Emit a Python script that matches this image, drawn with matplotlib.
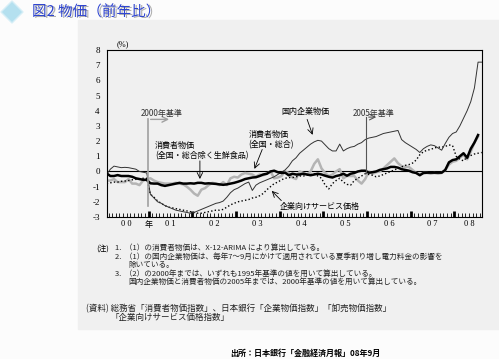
import numpy as np
import matplotlib
matplotlib.use("Agg")
import matplotlib.pyplot as plt
from matplotlib.patches import Rectangle, Polygon

plt.rcParams['font.family'] = ['Noto Sans CJK JP', 'DejaVu Sans']

# monthly, Jan 2000 - Aug 2008 (y/y %)
cgpi = [-0.2, 0.15, 0.35, 0.3, 0.25, 0.27, 0.25, 0.2, 0.15, 0.0, -0.05, -0.1,
        -1.5, -1.75, -2.0, -2.1, -2.25, -2.35, -2.45, -2.55, -2.6, -2.65, -2.7, -2.75,
        -2.7, -2.6, -2.5, -2.4, -2.3, -2.2, -2.1, -2.05, -1.95, -1.7, -1.4, -1.2,
        -1.1, -0.95, -0.8, -0.7, -1.25, -0.9, -0.75, -0.65, -0.55, -0.45, -0.35, -0.2,
        -0.05, 0.1, 0.35, 0.7, 0.9, 1.2, 1.4, 1.6, 1.8, 1.95, 2.05, 2.0,
        1.75, 1.5, 1.35, 1.35, 1.8, 1.35, 1.5, 1.6, 1.65, 1.8, 1.9, 2.1,
        2.2, 2.25, 2.3, 2.4, 2.5, 2.55, 2.6, 2.65, 2.7, 2.1, 1.9, 1.75,
        1.6, 1.45, 1.25, 1.5, 1.65, 1.75, 1.7, 1.55, 1.4, 1.85, 2.25, 2.5,
        2.6, 3.0, 3.5, 4.0, 4.6, 5.5, 7.2, 7.2]
cspi = [-0.8, -0.75, -0.7, -0.7, -0.65, -0.63, -0.6, -0.55, -0.52, -0.5, -0.45, -0.45,
        -1.5, -1.7, -1.95, -2.1, -2.25, -2.35, -2.4, -2.45, -2.5, -2.55, -2.6, -2.65,
        -2.7, -2.75, -2.75, -2.7, -2.65, -2.6, -2.55, -2.55, -2.5, -2.35, -2.2, -2.1,
        -2.0, -1.95, -1.9, -1.85, -1.75, -1.7, -1.6, -1.45, -1.2, -1.0, -0.8, -0.7,
        -0.55, -0.45, -0.4, -0.4, -0.35, -0.3, -0.3, -0.25, -0.2, -0.15, -0.3, -0.45,
        -0.9, -1.15, -0.8, -0.6, -0.45, -0.7, -0.85, -0.9, -0.6, -0.45, -0.3, -0.15,
        -0.2, -0.25, -0.35, -0.3, -0.2, -0.1, 0.0, 0.1, 0.2, 0.3, 0.4, 0.45,
        0.55, 0.75, 1.1, 1.3, 1.4, 1.45, 1.55, 1.6, 1.6, 1.65, 1.75, 1.7,
        1.0, 0.8, 0.7, 0.95, 1.05, 1.15, 1.2, 1.25]
cpi_core = [-0.13, -0.3, -0.3, -0.24, -0.3, -0.3, -0.3, -0.35, -0.45, -0.5, -0.55, -0.55,
            -0.78, -0.8, -0.8, -0.9, -0.95, -0.9, -0.85, -0.8, -0.75, -0.8, -0.8, -0.78,
            -0.8, -0.75, -0.75, -0.8, -0.78, -0.8, -0.82, -0.85, -0.88, -0.85, -0.8, -0.75,
            -0.68, -0.6, -0.5, -0.45, -0.4, -0.38, -0.3, -0.2, -0.15, 0.0, 0.05, -0.05,
            -0.1, -0.08, -0.25, -0.15, -0.2, -0.2, -0.15, -0.2, -0.25, -0.2, -0.15, -0.2,
            -0.28, -0.35, -0.4, -0.3, -0.25, -0.15, -0.28, -0.15, -0.1, 0.0, 0.05, 0.05,
            -0.08, -0.05, 0.0, 0.1, 0.15, 0.2, 0.3, 0.3, 0.25, 0.15, 0.1, 0.05,
            -0.05, -0.1, -0.25, -0.1, -0.08, -0.08, -0.08, -0.08, -0.08, 0.1, 0.6, 0.75,
            0.8, 1.0, 1.2, 0.9, 1.5, 1.9, 2.4, np.nan]
cpi_all = [-0.6, -0.6, -0.5, -0.7, -0.7, -0.7, -0.5, -0.8, -0.8, -0.9, -0.6, -0.5,
           -0.45, -0.6, -0.7, -0.75, -0.8, -0.8, -0.8, -0.75, -0.8, -0.85, -1.0, -1.2,
           -1.45, -1.6, -1.2, -1.1, -0.9, -0.75, -0.8, -0.9, -0.7, -0.9, -0.45, -0.35,
           -0.4, -0.2, -0.1, -0.15, -0.2, -0.35, -0.2, -0.25, -0.15, 0.0, -0.45, -0.4,
           -0.3, 0.0, -0.1, -0.4, -0.5, 0.0, -0.1, -0.2, 0.0, 0.5, 0.8, 0.2,
           -0.1, -0.3, -0.2, 0.0, 0.15, -0.45, -0.3, -0.3, -0.3, -0.6, -0.8, -0.5,
           0.0, -0.15, -0.05, 0.0, 0.2, 0.42, 0.64, 0.86, 0.55, 0.35, 0.3, 0.3,
           0.1, -0.1, -0.17, -0.1, -0.1, -0.15, -0.1, -0.15, -0.1, 0.1, 0.45, 0.64,
           0.7, 0.9, 1.1, 0.8, 1.3, 1.9, 2.3, np.nan]

year_labels = ["0 0", "0 1", "0 2", "0 3", "0 4", "0 5", "0 6", "0 7", "0 8"]
yticks = list(range(-3, 9))

months = np.arange(len(cgpi))

fig = plt.figure(figsize=(4.99, 3.59), dpi=100, facecolor='#fcfcfc')
W, H = 499, 359


def fx(px):
    return px / W


def fy(py):
    return 1 - py / H


# dotted page texture area
fig.add_artist(Rectangle((fx(78), fy(329)), fx(421), fy(20) - fy(329),
                         transform=fig.transFigure, color='#f0f0f0', zorder=0))

# title with diamond
fig.add_artist(Polygon([[fx(12), fy(1)], [fx(23), fy(12)], [fx(12), fy(23)], [fx(1), fy(12)]],
                       closed=True, transform=fig.transFigure, facecolor='#b4e0ef',
                       edgecolor='#d6eef6', lw=1))
fig.text(fx(33.5), fy(13.5), "図2 物価（前年比）", fontsize=10.5, color='#b0b0b0',
         va='center', ha='left')
fig.text(fx(32), fy(12), "図2 物価（前年比）", fontsize=10.5, color='#2f45d0',
         va='center', ha='left')

ax = fig.add_axes([fx(106.7), fy(217), fx(481.7) - fx(106.7), fy(50) - fy(217)])
ax.set_facecolor('none')

ax.plot(months, cpi_all, color='#b4b4b4', lw=1.8, zorder=2)
ax.plot(months, cspi, color='black', lw=1.0, linestyle=(0, (1, 1.6)), zorder=3)
ax.plot(months, cgpi, color='#333333', lw=0.7, zorder=4)
ax.plot(months, cpi_core, color='black', lw=1.8, zorder=5)
ax.axhline(0, color='black', lw=0.8, zorder=1)

ax.set_xlim(0, 103)
ax.set_ylim(-3, 8)
ax.set_yticks(yticks)
ax.set_yticklabels([str(v) for v in yticks], family='Liberation Serif', fontsize=6.5)
ax.tick_params(axis='y', length=0, pad=5)

ax.set_xticks(np.arange(11.5, 103, 12))
ax.set_xticks(np.arange(0.5, 103, 1), minor=True)
ax.set_xticklabels([])
ax.tick_params(axis='x', which='major', direction='in', length=4, width=2.0)
ax.tick_params(axis='x', which='minor', direction='in', length=3, width=0.6)
for s in ax.spines.values():
    s.set_linewidth(0.8)

label_pos = [5.5, 17.5, 29.5, 41.5, 53.5, 65.5, 77.5, 89.5, 99.5]
for p, lab in zip(label_pos, year_labels):
    ax.text(p, -3.2, lab, ha='center', va='top', fontsize=6, family='Liberation Serif')
ax.text(11.6, -3.2, "年", ha='center', va='top', fontsize=5.8)
ax.text(4.3, 8.15, "(%)", ha='center', va='bottom', fontsize=6, family='Liberation Serif')

# base-year markers
ax.plot([11.3, 11.3], [-2.25, 3.43], color='#a0a0a0', lw=1.2, zorder=6)
ax.annotate('', xy=(17.9, 3.43), xytext=(11.3, 3.43),
            arrowprops=dict(arrowstyle='->', color='#a0a0a0', lw=1.0))
ax.text(15.0, 3.85, "2000年基準", ha='center', va='center', fontsize=5.8, color='#333333')
ax.plot([71.2, 71.2], [-0.1, 3.58], color='#555555', lw=0.8, zorder=6)
ax.annotate('', xy=(74.8, 3.58), xytext=(71.2, 3.58),
            arrowprops=dict(arrowstyle='->', color='#555555', lw=0.8))
ax.text(73.3, 3.82, "2005年基準", ha='center', va='center', fontsize=5.8, color='#333333')

# series labels
ax.text(54.6, 3.93, "国内企業物価", ha='center', va='center', fontsize=5.8)
ax.annotate('', xy=(56.8, 2.24), xytext=(54.8, 3.6),
            arrowprops=dict(arrowstyle='->', color='black', lw=0.6))
ax.text(38.9, 2.1, "消費者物価\n(全国・総合)", ha='left', va='center', fontsize=5.8,
        linespacing=1.1)
ax.annotate('', xy=(40.3, 0.0), xytext=(43.0, 1.62),
            arrowprops=dict(arrowstyle='->', color='black', lw=0.6))
ax.text(13.3, 1.38, "消費者物価\n(全国・総合除く生鮮食品)", ha='left', va='center', fontsize=5.8,
        linespacing=1.1)
ax.annotate('', xy=(25.6, -0.68), xytext=(25.6, 0.88),
            arrowprops=dict(arrowstyle='->', color='black', lw=0.6))
ax.text(58.5, -2.32, "企業向けサービス価格", ha='center', va='center', fontsize=5.8)
ax.annotate('', xy=(44.8, -1.15), xytext=(48.5, -2.05),
            arrowprops=dict(arrowstyle='->', color='black', lw=0.6))

# notes (y given as text centre in px, drawn on baseline)
note_fs = 5.5
fig.text(fx(96.7), fy(250.3), "(注)", fontsize=note_fs, va='baseline')
notes = [
    (115, 247.7, note_fs, "1.  （1）の消費者物価は、X-12-ARIMA により算出している。"),
    (115, 256.7, note_fs, "2.  （1）の国内企業物価は、毎年7～9月にかけて適用されている夏季割り増し電力料金の影響を"),
    (128, 264.3, note_fs, "除いている。"),
    (115, 273.3, note_fs, "3.  （2）の2000年までは、いずれも1995年基準の値を用いて算出している。"),
    (128, 281.7, note_fs, "国内企業物価と消費者物価の2005年までは、2000年基準の値を用いて算出している。"),
    (86, 308.3, 6.1, "(資料) 総務省「消費者物価指数」、日本銀行「企業物価指数」「卸売物価指数」"),
    (110, 317.7, 6.1, "「企業向けサービス価格指数」"),
]
for x, y, fs, t in notes:
    fig.text(fx(x), fy(y + 2.6), t, fontsize=fs, va='baseline', ha='left', color='#222222')

fig.text(fx(230), fy(353), "出所：日本銀行「金融経済月報」08年9月", fontsize=5.8,
         fontweight='bold', va='center', ha='left')

fig.savefig("out.png", dpi=100, facecolor=fig.get_facecolor())
